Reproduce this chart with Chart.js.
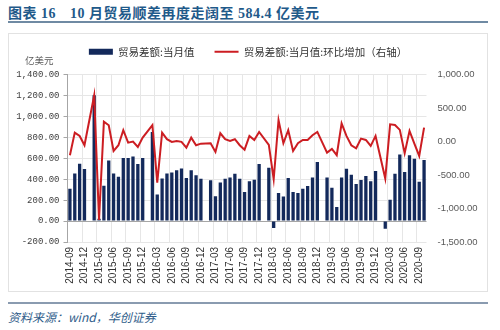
<!DOCTYPE html>
<html>
<head>
<meta charset="utf-8">
<script src="https://cdn.jsdelivr.net/npm/chart.js@4.4.0/dist/chart.umd.min.js"></script>
<style>
body{margin:0;background:#fff;width:500px;height:330px;overflow:hidden;position:relative;font-family:"Noto Sans CJK SC",sans-serif}
#title{position:absolute;left:8px;top:2px;font:bold 14px "Liberation Serif","Noto Sans CJK SC";color:#1f5a8a;white-space:pre;letter-spacing:0.5px}
#title span{margin-left:14px}
#titleLine{position:absolute;left:8px;top:21px;width:480px;height:2px;background:#6f8aa3}
#box{position:absolute;left:8px;top:33px;width:478px;height:257px;border:1px solid #e2e2e2}
#chart{position:absolute;left:8px;top:33px}
#unit{position:absolute;left:25px;top:53px;font-size:9.5px;color:#595959}
#footLine{position:absolute;left:8px;top:302px;width:480px;height:2px;background:#8a9bb0}
#foot{position:absolute;left:8px;top:308px;font:italic 12px "Noto Sans CJK SC";color:#2f5d8a}
</style>
</head>
<body>
<div id="title">图表 16<span>10 月贸易顺差再度走阔至 584.4 亿美元</span></div>
<div id="titleLine"></div>
<div id="box"></div>
<canvas id="chart" width="480" height="259"></canvas>
<div id="unit">亿美元</div>
<div id="footLine"></div>
<div id="foot">资料来源：wind，华创证券</div>
<script>
// 月份 2014-09 ~ 2020-10
const months = [
    '2014-09','2014-10','2014-11','2014-12',
    '2015-01','2015-02','2015-03','2015-04','2015-05','2015-06','2015-07','2015-08','2015-09','2015-10','2015-11','2015-12',
    '2016-01','2016-02','2016-03','2016-04','2016-05','2016-06','2016-07','2016-08','2016-09','2016-10','2016-11','2016-12',
    '2017-01','2017-02','2017-03','2017-04','2017-05','2017-06','2017-07','2017-08','2017-09','2017-10','2017-11','2017-12',
    '2018-01','2018-02','2018-03','2018-04','2018-05','2018-06','2018-07','2018-08','2018-09','2018-10','2018-11','2018-12',
    '2019-01','2019-02','2019-03','2019-04','2019-05','2019-06','2019-07','2019-08','2019-09','2019-10','2019-11','2019-12',
    '2020-01','2020-02','2020-03','2020-04','2020-05','2020-06','2020-07','2020-08','2020-09','2020-10'
]

// 贸易差额:当月值 (亿美元), 1月与2月合并公布
const tradeBalance = [
    310, 455, 548, 498,
    null, 1203, 22, 338, 580, 455, 425, 603, 603, 618, 545, 603,
    null, 852, 255, 408, 455, 465, 487, 502, 412, 487, 438, 406,
    null, 390, 237, 368, 406, 418, 453, 406, 278, 380, 395, 545,
    null, 511, -67, 268, 236, 411, 278, 268, 310, 335, 418, 565,
    null, 418, 320, 134, 418, 501, 444, 354, 392, 431, 380, 478,
    null, -73, 205, 453, 638, 469, 629, 597, 377, 584.4
]

// 贸易差额:当月值:环比增加 (右轴)
const momChange = [
    -203, 134, 85, -54,
    null, 690, -1169, 299, 245, -139, -54, 170, -15, 0, -79, 60,
    null, 245, -612, 134, 36, -4, 10, -4, -90, 60, -54, -30,
    null, -24, -154, 125, 36, 10, 36, -54, -120, 85, 25, 145,
    null, -49, -562, 319, -24, 170, -139, -24, 25, 25, 95, 145,
    null, -164, -108, -203, 274, 85, -54, -99, 45, 25, -64, 85,
    null, -552, 259, 249, 175, -174, 160, -30, -214, 209
]

const leftTicks = [-200, 0, 200, 400, 600, 800, 1000, 1200, 1400]
const rightTicks = [-1500, -1000, -500, 0, 500, 1000]

function fmt(v){
    return v.toLocaleString('en-US', {minimumFractionDigits: 2, maximumFractionDigits: 2})
}

const data = {
    labels: months,
    datasets: [{
            type: 'bar',
            label: '贸易差额:当月值',
            data: tradeBalance,
            backgroundColor: '#13295b',
            barPercentage: 0.68,
            categoryPercentage: 1,
            yAxisID: 'y',
            order: 1
        }, {
            type: 'line',
            label: '贸易差额:当月值:环比增加（右轴）',
            data: momChange,
            borderColor: '#cc1d22',
            backgroundColor: '#cc1d22',
            borderWidth: 2,
            pointRadius: 0,
            tension: 0,
            spanGaps: true,
            yAxisID: 'y1',
            order: 0
        }]
}

const config = {
    data: data,
    options: {
        responsive: false,
        animation: false,
        devicePixelRatio: 1,
        layout: {padding: {top: -6.5, left: 0, right: 0, bottom: 0}},
        plugins: {
            tooltip: {enabled: false},
            // spacer between legend and plot
            subtitle: {
                display: true,
                text: '',
                weight: 500,
                padding: 0,
                font: {size: 7.7, lineHeight: 1}
            },
            legend: {
                position: 'top',
                labels: {
                    usePointStyle: true,
                    pointStyleWidth: 24,
                    boxHeight: 6,
                    padding: 20,
                    color: '#333',
                    font: {family: 'Noto Sans CJK SC', size: 10.5},
                    sort: (a, b) => a.datasetIndex - b.datasetIndex,
                    generateLabels: function(chart){
                        let items = Chart.defaults.plugins.legend.labels.generateLabels(chart)
                        items.forEach(it => {
                            if (it.datasetIndex === 0) {
                                it.pointStyle = 'rect'
                                it.lineWidth = 0
                            } else {
                                it.pointStyle = 'line'
                                it.lineWidth = 2
                                it.strokeStyle = '#cc1d22'
                            }
                        })
                        return items
                    }
                }
            }
        },
        scales: {
            x: {
                offset: true,
                grid: {
                    offset: true,
                    drawTicks: false,
                    color: ctx => (ctx.index % 3 === 0 && ctx.index > 0 && ctx.index < months.length) ? '#e6e6e6' : 'rgba(0,0,0,0)'
                },
                border: {display: false},
                ticks: {
                    autoSkip: false,
                    maxRotation: 90,
                    minRotation: 90,
                    padding: 5,
                    color: '#333',
                    font: {family: 'Liberation Sans', size: 10},
                    callback: function(v, i){ return i % 3 === 0 ? months[i] : '' }
                },
                afterFit: s => { s.height = 50 }
            },
            y: {
                position: 'left',
                min: -200,
                max: 1400,
                afterBuildTicks: s => { s.ticks = leftTicks.map(v => ({value: v})) },
                grid: {
                    color: ctx => (ctx.tick && ctx.tick.value === 0) ? '#a6a6a6' : '#e6e6e6',
                    tickColor: '#a6a6a6',
                    tickLength: 4
                },
                border: {display: true, color: '#a6a6a6'},
                ticks: {
                    padding: 4,
                    color: '#404040',
                    font: {family: 'Liberation Mono', size: 9},
                    callback: v => fmt(v)
                },
                afterFit: s => { s.width = 59.5 }
            },
            y1: {
                position: 'right',
                min: -1500,
                max: 1000,
                afterBuildTicks: s => { s.ticks = rightTicks.map(v => ({value: v})) },
                grid: {display: false, drawTicks: false},
                border: {display: false},
                ticks: {
                    padding: 11,
                    color: '#595959',
                    font: {family: 'Liberation Sans', size: 9.5},
                    callback: v => fmt(v)
                },
                afterFit: s => { s.width = 61.5 }
            }
        }
    }
}

let ctx = document.getElementById('chart').getContext('2d')
new Chart(ctx, config)
</script>
</body>
</html>
